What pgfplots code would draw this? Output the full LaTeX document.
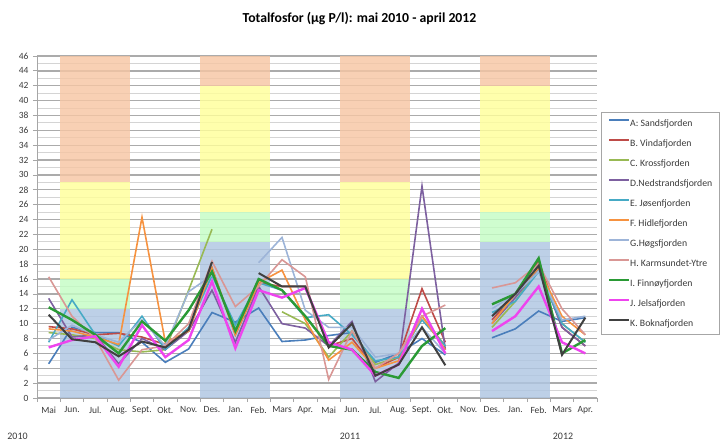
\documentclass[border=0pt]{standalone}
\usepackage{pgfplots}
\pgfplotsset{compat=1.18}
\usepackage{pgfplotstable}
\usepackage{fontspec}
\setmainfont{Carlito}
\definecolor{cA}{HTML}{4A7EBB}
\definecolor{cB}{HTML}{BE4B48}
\definecolor{cC}{HTML}{98B954}
\definecolor{cD}{HTML}{7D60A0}
\definecolor{cE}{HTML}{46AAC5}
\definecolor{cF}{HTML}{F69240}
\definecolor{cG}{HTML}{9DB4D8}
\definecolor{cH}{HTML}{D99795}
\definecolor{cI}{HTML}{2A9A35}
\definecolor{cJ}{HTML}{EE44EE}
\definecolor{cK}{HTML}{404040}
\definecolor{bOr}{HTML}{F6C6A4}
\definecolor{bYe}{HTML}{FFFF9A}
\definecolor{bGr}{HTML}{C4FDC4}
\definecolor{bBl}{HTML}{AFC6E2}
\definecolor{txt}{HTML}{3A3A3A}

\pgfplotstableread{
x A B C D E F G H I J K
0 4.6 9.6 8.8 13.4 7.5 9.3 7.8 16.3 12.2 6.8 11.2
1 9.5 9.3 8.5 8.2 13.2 9.0 9.8 11.0 10.5 7.8 7.9
2 8.8 8.5 8.0 8.5 8.5 8.2 8.5 8.0 8.5 8.3 7.5
3 8.8 8.7 6.5 4.6 7.0 7.2 7.5 2.4 6.0 4.2 5.6
4 7.5 8.2 6.2 8.0 11.0 24.3 10.5 6.5 10.3 9.8 7.6
5 4.8 7.2 6.5 6.5 6.5 7.5 7.0 7.0 7.7 5.5 6.8
6 6.6 9.0 14.5 9.0 9.5 9.0 14.3 10.0 11.8 7.8 9.2
7 11.5 17.5 22.7 14.5 16.5 17.5 16.5 18.4 17.0 15.7 18.3
8 10.2 8.5 nan 7.5 9.8 8.5 nan 12.3 9.0 6.7 nan
9 12.1 15.5 nan 15.0 15.5 15.5 18.2 15.0 16.0 14.5 16.8
10 7.6 15.0 11.6 10.0 14.5 17.2 21.6 18.6 14.5 13.5 15.0
11 7.8 15.0 10.0 9.4 10.8 10.5 11.8 16.3 11.0 14.8 15.0
12 8.4 7.0 5.5 7.0 11.2 5.1 9.5 2.5 7.0 7.5 6.8
13 8.8 8.0 9.0 10.3 8.5 7.5 9.5 9.0 6.5 6.5 10.0
14 4.8 4.0 4.5 2.2 5.0 4.0 5.5 4.0 3.5 3.0 3.0
15 6.0 5.5 5.5 4.7 5.5 5.0 6.0 6.0 2.7 4.5 4.5
16 8.0 14.7 11.0 28.5 10.5 11.0 9.5 11.0 7.0 12.0 9.5
17 5.8 7.5 7.0 6.5 7.0 6.5 6.0 12.5 9.4 6.0 4.4
18 nan nan nan nan nan nan nan nan nan nan nan
19 8.1 10.5 9.5 10.0 11.5 10.0 12.0 14.8 12.6 9.0 11.0
20 9.3 14.0 13.0 13.5 13.0 14.0 14.0 15.5 14.0 11.0 14.0
21 11.7 18.5 17.5 17.5 17.0 17.5 17.0 18.0 18.8 15.0 17.8
22 10.3 9.5 10.0 9.5 10.0 11.0 10.5 12.0 6.0 7.5 5.8
23 10.8 7.0 7.5 7.0 7.5 8.5 11.0 8.5 7.8 6.0 10.8
}\data

\begin{document}
\begin{tikzpicture}
\path (0bp,0bp) rectangle (720bp,443bp);
\node[font=\fontsize{13.8}{15}\selectfont\bfseries] at (359.5bp,424bp) {Totalfosfor (µg P/l): mai 2010 - april 2012};
\node[font=\fontsize{10}{11}\selectfont, text=txt] at (17.5bp,6.5bp) {2010};
\node[font=\fontsize{10}{11}\selectfont, text=txt] at (350bp,6.5bp) {2011};
\node[font=\fontsize{10}{11}\selectfont, text=txt] at (563bp,7bp) {2012};
\begin{axis}[
  at={(37bp,45bp)}, anchor=south west,
  scale only axis, width=560bp, height=342bp,
  xmin=-0.5, xmax=23.5, ymin=0, ymax=46,
  unbounded coords=jump,
  axis x line*=bottom, axis y line*=left,
  axis line style={draw=gray!70, line width=0.8bp},
  xtick={0,...,23},
  xticklabels={Mai, Jun., Jul., Aug., Sept., Okt., Nov., Des., Jan., Feb., Mars, Apr., Mai, Jun., Jul., Aug., Sept., Okt., Nov., Des., Jan., Feb., Mars, Apr.},
  minor xtick={-0.5,0.5,...,23.5},
  ytick={0,2,...,46},
  minor ytick={1,3,...,45},
  tick align=outside,
  major tick length=4bp, minor tick length=4bp,
  x tick style={draw=none},
  minor x tick style={draw=gray!70, line width=0.8bp},
  y tick style={draw=gray!70, line width=0.8bp},
  minor y tick style={draw=none},
  ymajorgrids, yminorgrids,
  major grid style={draw=black!33, line width=1.3bp},
  minor grid style={draw=black!17, line width=1bp},
  tick label style={font=\fontsize{9.5}{10}\selectfont, text=txt},
  /pgf/number format/assume math mode=true,
  xticklabel style={yshift=-1bp},
  yticklabel style={xshift=-1bp},
  legend style={at={(1.007,0.835)}, anchor=north west, draw=gray!70, line width=0.6bp,
    font=\fontsize{9.8}{11}\selectfont, row sep=11bp, inner xsep=7bp, inner ysep=6.5bp,
    nodes={inner sep=0pt, text height=7bp, text depth=2bp},
    cells={anchor=west}, text=txt},
  legend cell align=left,
  legend image code/.code={\draw[#1, line width=2bp] (0bp,3.5bp) -- (20bp,3.5bp);},
  band/.style={draw=none, forget plot, fill opacity=0.82},
]
\addplot[band, fill=bBl] coordinates {(0.5,0) (3.5,0) (3.5,12) (0.5,12)} -- cycle;
\addplot[band, fill=bGr] coordinates {(0.5,12) (3.5,12) (3.5,16) (0.5,16)} -- cycle;
\addplot[band, fill=bYe] coordinates {(0.5,16) (3.5,16) (3.5,29) (0.5,29)} -- cycle;
\addplot[band, fill=bOr] coordinates {(0.5,29) (3.5,29) (3.5,46) (0.5,46)} -- cycle;
\addplot[band, fill=bBl] coordinates {(6.5,0) (9.5,0) (9.5,21) (6.5,21)} -- cycle;
\addplot[band, fill=bGr] coordinates {(6.5,21) (9.5,21) (9.5,25) (6.5,25)} -- cycle;
\addplot[band, fill=bYe] coordinates {(6.5,25) (9.5,25) (9.5,42) (6.5,42)} -- cycle;
\addplot[band, fill=bOr] coordinates {(6.5,42) (9.5,42) (9.5,46) (6.5,46)} -- cycle;
\addplot[band, fill=bBl] coordinates {(12.5,0) (15.5,0) (15.5,12) (12.5,12)} -- cycle;
\addplot[band, fill=bGr] coordinates {(12.5,12) (15.5,12) (15.5,16) (12.5,16)} -- cycle;
\addplot[band, fill=bYe] coordinates {(12.5,16) (15.5,16) (15.5,29) (12.5,29)} -- cycle;
\addplot[band, fill=bOr] coordinates {(12.5,29) (15.5,29) (15.5,46) (12.5,46)} -- cycle;
\addplot[band, fill=bBl] coordinates {(18.5,0) (21.5,0) (21.5,21) (18.5,21)} -- cycle;
\addplot[band, fill=bGr] coordinates {(18.5,21) (21.5,21) (21.5,25) (18.5,25)} -- cycle;
\addplot[band, fill=bYe] coordinates {(18.5,25) (21.5,25) (21.5,42) (18.5,42)} -- cycle;
\addplot[band, fill=bOr] coordinates {(18.5,42) (21.5,42) (21.5,46) (18.5,46)} -- cycle;
\addplot[cA, line width=1.6bp, no markers] table[x=x, y=A] {\data};
\addlegendentry{A: Sandsfjorden}
\addplot[cB, line width=1.6bp, no markers] table[x=x, y=B] {\data};
\addlegendentry{B. Vindafjorden}
\addplot[cC, line width=1.6bp, no markers] table[x=x, y=C] {\data};
\addlegendentry{C. Krossfjorden}
\addplot[cD, line width=1.6bp, no markers] table[x=x, y=D] {\data};
\addlegendentry{D.Nedstrandsfjorden}
\addplot[cE, line width=1.6bp, no markers] table[x=x, y=E] {\data};
\addlegendentry{E. Jøsenfjorden}
\addplot[cF, line width=1.6bp, no markers] table[x=x, y=F] {\data};
\addlegendentry{F. Hidlefjorden}
\addplot[cG, line width=1.6bp, no markers] table[x=x, y=G] {\data};
\addlegendentry{G.Høgsfjorden}
\addplot[cH, line width=1.6bp, no markers] table[x=x, y=H] {\data};
\addlegendentry{H. Karmsundet-Ytre}
\addplot[cI, line width=2.4bp, no markers] table[x=x, y=I] {\data};
\addlegendentry{I. Finnøyfjorden}
\addplot[cJ, line width=2.4bp, no markers] table[x=x, y=J] {\data};
\addlegendentry{J. Jelsafjorden}
\addplot[cK, line width=2bp, no markers] table[x=x, y=K] {\data};
\addlegendentry{K. Boknafjorden}
\end{axis}
\end{tikzpicture}
\end{document}
